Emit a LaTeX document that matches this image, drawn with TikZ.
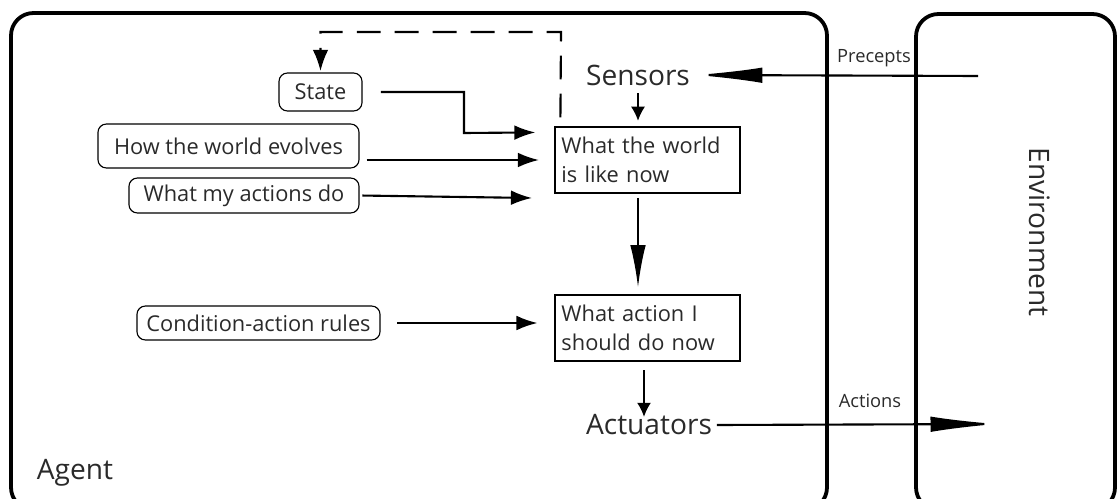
\documentclass[tikz,border=0pt]{standalone}
\usepackage{fontspec}
\setmainfont{Open Sans}
\usepackage{tikz}
\usetikzlibrary{calc,arrows.meta}
\definecolor{ink}{HTML}{2A2A2A}
\newcommand{\boxfont}{\fontsize{15.5}{21}\selectfont}
\newcommand{\bigfont}{\fontsize{20}{24}\selectfont}
\newcommand{\tinyfont}{\fontsize{13}{15}\selectfont}

\tikzset{
	frame/.style={line width=2.7pt, rounded corners=16pt},
	memo/.style={draw, line width=0.8pt, rounded corners=6pt, inner sep=0pt, text=ink, font=\boxfont},
	stage/.style={draw, line width=0.8pt, inner sep=0pt, align=left, text=ink, font=\boxfont,
		minimum width=4.625cm, minimum height=1.65cm, text width=4.3cm},
	feed/.style={line width=1.5pt, -{Latex[length=15pt,width=10.5pt]}},
	thin feed/.style={line width=1.3pt, -{Latex[length=10pt,width=10pt]}},
	wide feed/.style={line width=1.5pt, -{Latex[length=48pt,width=11pt]}},
}

\begin{document}
\begin{tikzpicture}[x=0.025cm, y=-0.025cm]
	\useasboundingbox (0,0) rectangle (1119,499);
	\clip (0,0) rectangle (1119,499);

	%frames
	\draw[frame] (11,13) rectangle (827,510);	%agent
	\draw[frame] (916,14) rectangle (1115,510);	%environment

	%labels on the frames
	\node[font=\bigfont, text=ink] (agent) at (75,473) {Agent};
	\node[font=\bigfont, text=ink, rotate=-90] (env) at (1040,232) {Environment};
	\node[font=\tinyfont, text=ink] (precepts) at (874,58) {Precepts};
	\node[font=\tinyfont, text=ink] (actions) at (870,401) {Actions};

	%inside the agent
	\node[font=\bigfont, text=ink] (sensors) at (638,75) {Sensors};
	\node[stage] (world) at (647.5,160) {What the world\\is like now};
	\node[stage] (action) at (647.5,328) {What action I\\should do now};
	\node[font=\bigfont, text=ink] (actuators) at (649,425) {Actuators};

	\node[memo, minimum width=2.075cm, minimum height=0.95cm] (state) at (320.5,92) {State};
	\node[memo, minimum width=6.525cm, minimum height=1.1cm] (evolves) at (228.5,146) {How the world evolves};
	\node[memo, minimum width=5.75cm, minimum height=0.875cm] (doing) at (244,195.5) {What my actions do};
	\node[memo, minimum width=6.075cm, minimum height=0.85cm] (rules) at (258.5,323) {Condition-action rules};

	%free ends
	\coordinate (perceptSrc) at (978,76);
	\coordinate (actEnd) at (998,424);
	\coordinate (doingEnd) at (532,198);
	\coordinate (loopTop) at (561,32);
	\coordinate (bend) at (464,133);

	%arrows
	\draw[wide feed] (perceptSrc) -- (sensors.east);
	\draw[wide feed] (actuators.east) -- (actEnd);
	\draw[thin feed, shorten <=2pt, shorten >=4pt] (sensors.south) -- (sensors.south |- world.north);
	\draw[feed, -{Latex[length=30pt,width=11pt]}, shorten <=3pt, shorten >=5pt] (world.south -| sensors.south) -- (action.north -| sensors.south);
	\draw[thin feed, shorten <=6pt, shorten >=-5pt] (action.south -| 644,0) -- (actuators.north -| 644,0);

	\draw[feed, shorten <=13pt] (state.east) -| (bend) -- ($(world.north west)+(-19,6)$);
	\draw[feed, shorten <=5pt, shorten >=11pt] (evolves.east |- world.west) -- (world.west);
	\draw[feed, shorten <=2pt] (doing.east) -- (doingEnd);
	\draw[feed, shorten <=12pt, shorten >=12pt] (rules.east) -- (rules.east -| action.west);

	%feedback to the state
	\draw[feed, dashed, dash pattern=on 17pt off 10pt, -{Latex[length=15pt,width=11pt]}, shorten >=1pt]
		($(world.north west)+(6,-9)$) -- (loopTop) -| (state.north);
\end{tikzpicture}
\end{document}
